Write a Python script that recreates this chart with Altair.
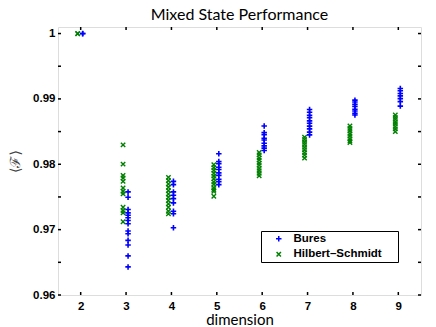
import altair as alt
import pandas as pd

# ---- data ----
dims = [2, 3, 4, 5, 6, 7, 8, 9]
bures = {
    2: [1.0, 0.99998],
    3: [0.97577, 0.97495, 0.97308, 0.97257, 0.97221, 0.97181, 0.97140, 0.97090,
        0.96978, 0.96938, 0.96836, 0.96765, 0.96598, 0.96430],
    4: [0.97739, 0.97688, 0.97577, 0.97526, 0.97475, 0.97409, 0.97282, 0.97242, 0.97029],
    5: [0.98160, 0.98043, 0.98010, 0.97955, 0.97921, 0.97868, 0.97830, 0.97771,
        0.97735, 0.97688],
    6: [0.98585, 0.98484, 0.98452, 0.98398, 0.98371, 0.98322, 0.98281, 0.98247, 0.98210],
    7: [0.98839, 0.98795, 0.98748, 0.98712, 0.98664, 0.98627, 0.98583, 0.98541,
        0.98492, 0.98449],
    8: [0.98981, 0.98952, 0.98918, 0.98886, 0.98842, 0.98815, 0.98779, 0.98753],
    9: [0.99159, 0.99124, 0.99083, 0.99046, 0.99004, 0.98958, 0.98890],
}
hilbert_schmidt = {
    2: [1.0, 0.99997],
    3: [0.98297, 0.98003, 0.97830, 0.97790, 0.97739, 0.97637, 0.97587, 0.97547,
        0.97343, 0.97293, 0.97257, 0.97120],
    4: [0.97800, 0.97749, 0.97698, 0.97648, 0.97597, 0.97546, 0.97495, 0.97445,
        0.97394, 0.97343, 0.97282, 0.97242],
    5: [0.97992, 0.97948, 0.97907, 0.97862, 0.97818, 0.97779, 0.97728, 0.97693,
        0.97642, 0.97612, 0.97587, 0.97511],
    6: [0.98180, 0.98143, 0.98098, 0.98063, 0.98017, 0.97984, 0.97938, 0.97902,
        0.97861, 0.97825],
    7: [0.98413, 0.98378, 0.98337, 0.98302, 0.98258, 0.98223, 0.98178, 0.98139, 0.98094],
    8: [0.98585, 0.98548, 0.98513, 0.98468, 0.98433, 0.98391, 0.98356, 0.98332],
    9: [0.98753, 0.98718, 0.98687, 0.98648, 0.98617, 0.98578, 0.98541, 0.98499],
}
series_names = ["Bures", "Hilbert–Schmidt"]
series_colors = ["#0000ff", "#008000"]
x_ticks = [2, 3, 4, 5, 6, 7, 8, 9]
y_ticks = [0.96, 0.965, 0.97, 0.975, 0.98, 0.985, 0.99, 0.995, 1.0]

rows = []
for d in dims:
    for v in bures[d]:
        rows.append({"dim": d, "F": v, "method": series_names[0]})
    for v in hilbert_schmidt[d]:
        rows.append({"dim": d, "F": v, "method": series_names[1]})
df = pd.DataFrame(rows)

W, H = 363, 268
xscale = alt.Scale(domain=[1.5, 9.5], nice=False, zero=False)
yscale = alt.Scale(domain=[0.96, 1.001], nice=False, zero=False)

PLUS = "M-1,0L1,0M0,-1L0,1"
CROSS = "M-0.8,-0.8L0.8,0.8M-0.8,0.8L0.8,-0.8"

lab_font = "Liberation Sans"

legend = alt.Legend(orient="none", legendX=203, legendY=204,
                    strokeColor="#000", fillColor="#fff",
                    padding=2, symbolSize=30, symbolStrokeWidth=1.5,
                    symbolOffset=10,
                    labelFont=lab_font, labelFontWeight="bold",
                    labelFontSize=11.5, labelColor="#000",
                    labelExpr="datum.label + '\u2002\u2002\u2009\u200b'",
                    labelOffset=9, rowPadding=2.5, title=None)
color_enc = alt.Color("method:N", scale=alt.Scale(domain=series_names, range=series_colors),
                      title=None, legend=legend)
shape_enc = alt.Shape("method:N", scale=alt.Scale(domain=series_names, range=[PLUS, CROSS]),
                      title=None, legend=legend)

points_hs = alt.Chart(df).transform_filter(
    alt.datum.method == series_names[1]
).mark_point(filled=False, strokeWidth=1.4, size=30, opacity=1).encode(
    x=alt.X("dim:Q", scale=xscale, title="dimension",
            axis=alt.Axis(values=x_ticks, format="d", grid=False, domain=False,
                          ticks=False, labelPadding=5, labelFontSize=11.5,
                          labelFontWeight="bold", labelFont=lab_font,
                          labelColor="#000", titleFont="Lato",
                          titleFontWeight="normal", titleFontSize=15,
                          titlePadding=1, titleColor="#000")),
    y=alt.Y("F:Q", scale=yscale, title="⟨ℱ⟩",
            axis=alt.Axis(values=y_ticks, grid=False, domain=False, ticks=False,
                          labelOverlap=False,
                          labelPadding=3, labelFontSize=11.5, labelFontWeight="bold",
                          labelFont=lab_font, labelColor="#000",
                          labelExpr="datum.value == 1 ? '1' : format(datum.value, '.3~f')",
                          titleFont="DejaVu Serif", titleFontWeight="normal",
                          titleFontSize=14, titlePadding=10, titleColor="#444")),
    xOffset=alt.value(-3),
    color=color_enc,
    shape=shape_enc,
)

points_b = alt.Chart(df).transform_filter(
    alt.datum.method == series_names[0]
).mark_point(filled=False, strokeWidth=1.6, size=30, opacity=1).encode(
    x=alt.X("dim:Q", scale=xscale),
    y=alt.Y("F:Q", scale=yscale),
    xOffset=alt.value(2),
    color=color_enc,
    shape=shape_enc,
)

xt = pd.DataFrame({"t": x_ticks})
yt = pd.DataFrame({"t": y_ticks})
tick_len = 3
bottom_ticks = alt.Chart(xt).mark_rule(color="#000", strokeWidth=1.5).encode(
    x=alt.X("t:Q", scale=xscale), y=alt.value(H), y2=alt.value(H - tick_len))
top_ticks = alt.Chart(xt).mark_rule(color="#000", strokeWidth=1.5).encode(
    x=alt.X("t:Q", scale=xscale), y=alt.value(0), y2=alt.value(tick_len))
left_ticks = alt.Chart(yt).mark_rule(color="#000", strokeWidth=1.5).encode(
    y=alt.Y("t:Q", scale=yscale), x=alt.value(0), x2=alt.value(tick_len))
right_ticks = alt.Chart(yt).mark_rule(color="#000", strokeWidth=1.5).encode(
    y=alt.Y("t:Q", scale=yscale), x=alt.value(W), x2=alt.value(W - tick_len))

chart = alt.layer(
    points_hs, points_b, bottom_ticks, top_ticks, left_ticks, right_ticks
).properties(
    width=W, height=H,
    title=alt.Title("Mixed State Performance", font="Lato", fontSize=16,
                    fontWeight="normal", color="#000", offset=3),
    autosize=alt.AutoSizeParams(type="none"),
    padding={"left": 50, "top": 19, "right": 7, "bottom": 34},
).configure_view(
    stroke="#000", strokeWidth=2
).configure(background="#fff")

chart.save("out.html", embed_options={"renderer": "svg", "actions": False})
